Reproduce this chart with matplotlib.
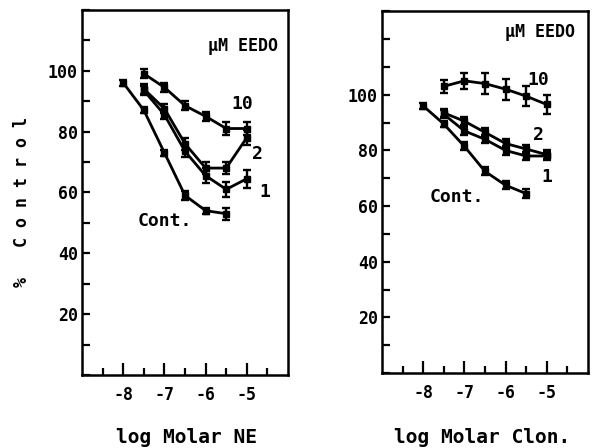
import matplotlib
matplotlib.use("Agg")
import matplotlib.pyplot as plt
from matplotlib.ticker import MultipleLocator, FixedLocator

# log molar concentrations
x_cont = [-8, -7.5, -7, -6.5, -6, -5.5]
x_eedo = [-7.5, -7, -6.5, -6, -5.5, -5]

# NE panel (% control)
ne_cont = [96, 87, 73, 59, 54, 53]
ne_cont_err = [1, 1, 1, 1.5, 1, 2]
ne_1 = [93.5, 85.5, 73.5, 65.5, 61, 64.5]
ne_1_err = [1.5, 1.5, 2, 2.5, 2.5, 3]
ne_2 = [94, 87.5, 76, 68, 68, 78]
ne_2_err = [1.5, 1.5, 2, 2, 2, 2.5]
ne_10 = [99, 94.5, 88.5, 85, 81, 81]
ne_10_err = [1.5, 1.5, 1.5, 1.5, 2, 2]

# Clonidine panel (% control)
cl_cont = [96, 89.5, 81.5, 72.5, 67.5, 64.5]
cl_cont_err = [1, 1, 1.5, 1.5, 1.5, 1.5]
cl_1 = [93, 87, 84, 80, 78, 78]
cl_1_err = [1.5, 1.5, 1.5, 1.5, 1.5, 1.5]
cl_2 = [93.5, 90.5, 86.5, 82.5, 80.5, 78.5]
cl_2_err = [1.5, 1.5, 1.5, 1.5, 1.5, 1.5]
cl_10 = [103, 105, 104, 102, 99.5, 96.5]
cl_10_err = [2.3, 2.8, 3.9, 3.8, 3.5, 3.4]

font = "DejaVu Sans Mono"
plt.rcParams['font.family'] = font
plt.rcParams['font.weight'] = 'bold'

fig = plt.figure(figsize=(5.95, 4.48), dpi=100)
ax1 = fig.add_axes([0.138, 0.163, 0.346, 0.815])
ax2 = fig.add_axes([0.642, 0.167, 0.346, 0.808])


def draw_curve(ax, x, y, err):
    ax.errorbar(x, y, yerr=err, color='black', lw=2.0, marker='s', ms=5,
                elinewidth=1.7, capsize=2.7, capthick=1.7)


def style(ax, ymax):
    ax.set_xlim(-9, -4)
    ax.set_ylim(0, ymax)
    ax.xaxis.set_major_locator(FixedLocator([-8, -7, -6, -5]))
    ax.xaxis.set_minor_locator(FixedLocator([-8.5, -7.5, -6.5, -5.5, -4.5]))
    ax.yaxis.set_major_locator(FixedLocator([20, 40, 60, 80, 100]))
    ax.yaxis.set_minor_locator(MultipleLocator(10))
    ax.set_xticklabels(['-8', '-7', '-6', '-5'])
    ax.set_yticklabels(['20', '40', '60', '80', '100'])
    ax.tick_params(axis='x', which='major', direction='in', length=9, width=1.6,
                   labelsize=12, pad=8)
    ax.tick_params(axis='x', which='minor', direction='in', length=5, width=1.6)
    ax.tick_params(axis='y', which='both', direction='in', length=5.5, width=1.6,
                   labelsize=12, pad=3)
    for s in ax.spines.values():
        s.set_linewidth(1.8)


for x, y, e in [(x_cont, ne_cont, ne_cont_err), (x_eedo, ne_1, ne_1_err),
                (x_eedo, ne_2, ne_2_err), (x_eedo, ne_10, ne_10_err)]:
    draw_curve(ax1, x, y, e)
style(ax1, 120)

for x, y, e in [(x_cont, cl_cont, cl_cont_err), (x_eedo, cl_1, cl_1_err),
                (x_eedo, cl_2, cl_2_err), (x_eedo, cl_10, cl_10_err)]:
    draw_curve(ax2, x, y, e)
style(ax2, 130)

# panel annotations
ax1.text(-4.25, 108, "\u03bcM EEDO", ha='right', va='center', fontsize=12)
ax1.text(-5.12, 89, "10", ha='center', va='center', fontsize=13)
ax1.text(-4.73, 72.5, "2", ha='center', va='center', fontsize=13)
ax1.text(-4.56, 60, "1", ha='center', va='center', fontsize=13)
ax1.text(-7.0, 50.5, "Cont.", ha='center', va='center', fontsize=13)

ax2.text(-4.32, 122.6, "\u03bcM EEDO", ha='right', va='center', fontsize=12)
ax2.text(-5.21, 105.4, "10", ha='center', va='center', fontsize=13)
ax2.text(-5.21, 85.7, "2", ha='center', va='center', fontsize=13)
ax2.text(-4.99, 70.5, "1", ha='center', va='center', fontsize=13)
ax2.text(-7.18, 63.3, "Cont.", ha='center', va='center', fontsize=13)

fig.text(0.313, 0.024, "log Molar NE", ha='center', va='center', fontsize=14)
fig.text(0.81, 0.024, "log Molar Clon.", ha='center', va='center', fontsize=14)
fig.text(0.037, 0.55, "%   C o n t r o l", ha='center', va='center',
         rotation=90, fontsize=12)

fig.savefig("out.png", dpi=100)
